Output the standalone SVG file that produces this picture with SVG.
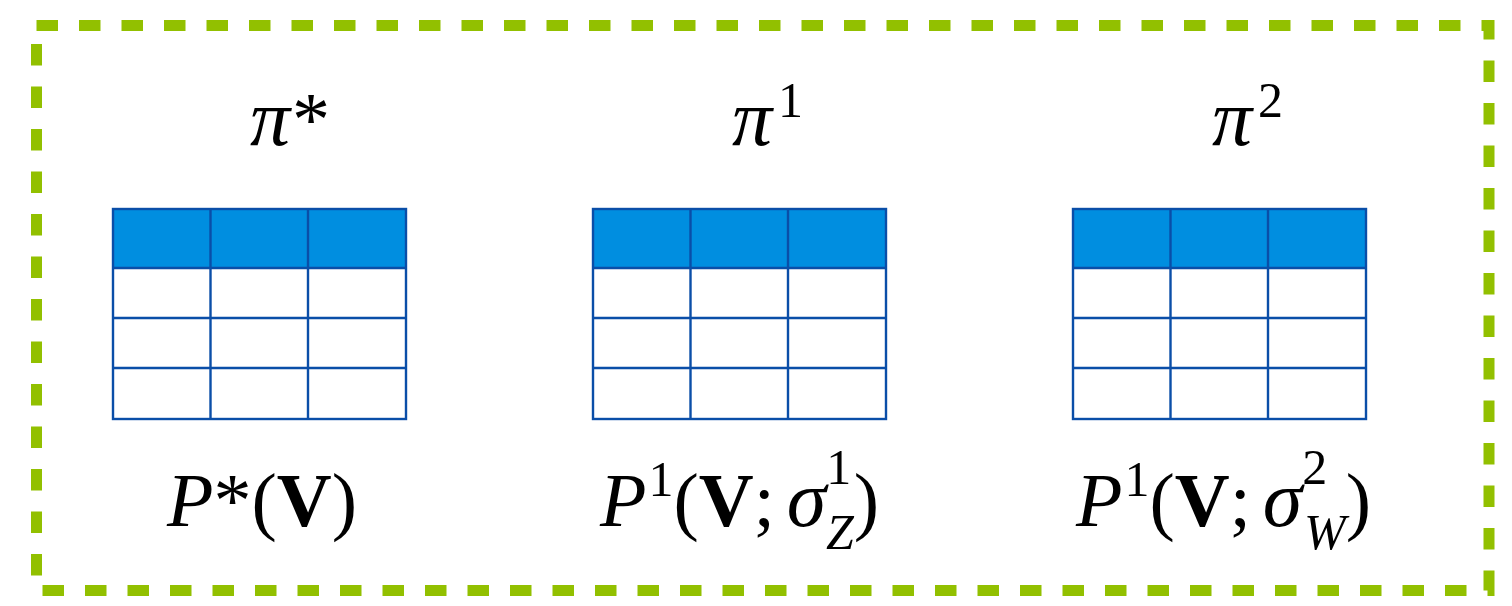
<svg xmlns="http://www.w3.org/2000/svg" width="1512" height="606" viewBox="0 0 1512 606">
<style>
.frame{fill:none;stroke:#92c000;stroke-width:11;stroke-dasharray:21.5 21}
.hdr{fill:#008ee0}
.grid{fill:none;stroke:#0a4ea8;stroke-width:2.4}
.lbl{font-family:"Liberation Serif","Times New Roman",serif;font-size:76px;fill:#000}
.it{font-style:italic}
.bf{font-weight:bold}
.gk{font-style:italic;font-size:80px}
.sm{font-size:50px}
</style>
<defs>
<g id="table">
<rect class="hdr" x="0" y="0" width="293" height="59"/>
<rect class="grid" x="0" y="0" width="293" height="210"/>
<path class="grid" d="M97.5 0V210M195 0V210M0 59H293M0 109H293M0 159H293"/>
</g>
</defs>
<rect class="frame" x="36.5" y="25.5" width="1452.5" height="565"/>
<g id="node-pistar">
<text class="lbl" x="250" y="145"><tspan class="gk">π</tspan><tspan dx="2">*</tspan></text>
<use href="#table" x="113" y="209"/>
<text class="lbl" x="167" y="526"><tspan class="it">P</tspan><tspan>*(</tspan><tspan class="bf">V</tspan><tspan>)</tspan></text>
</g>
<g id="node-pi1">
<text class="lbl" x="732" y="145"><tspan class="gk">π</tspan><tspan class="sm" dx="6" dy="-28">1</tspan></text>
<use href="#table" x="593" y="209"/>
<text class="lbl" y="526"><tspan x="600" class="it">P</tspan><tspan class="sm" dx="2" dy="-30">1</tspan><tspan dy="30">(</tspan><tspan class="bf">V</tspan><tspan>;</tspan><tspan class="gk" dx="12">σ</tspan><tspan class="sm" dy="-42">1</tspan><tspan class="sm it" x="826" dy="65">Z</tspan><tspan dy="-23">)</tspan></text>
</g>
<g id="node-pi2">
<text class="lbl" x="1212" y="145"><tspan class="gk">π</tspan><tspan class="sm" dx="6" dy="-28">2</tspan></text>
<use href="#table" x="1073" y="209"/>
<text class="lbl" y="526"><tspan x="1076" class="it">P</tspan><tspan class="sm" dx="2" dy="-30">1</tspan><tspan dy="30">(</tspan><tspan class="bf">V</tspan><tspan>;</tspan><tspan class="gk" dx="12">σ</tspan><tspan class="sm" dy="-42">2</tspan><tspan class="sm it" x="1304" dy="65">W</tspan><tspan dy="-23">)</tspan></text>
</g>
<g id="connectors"/>
</svg>
